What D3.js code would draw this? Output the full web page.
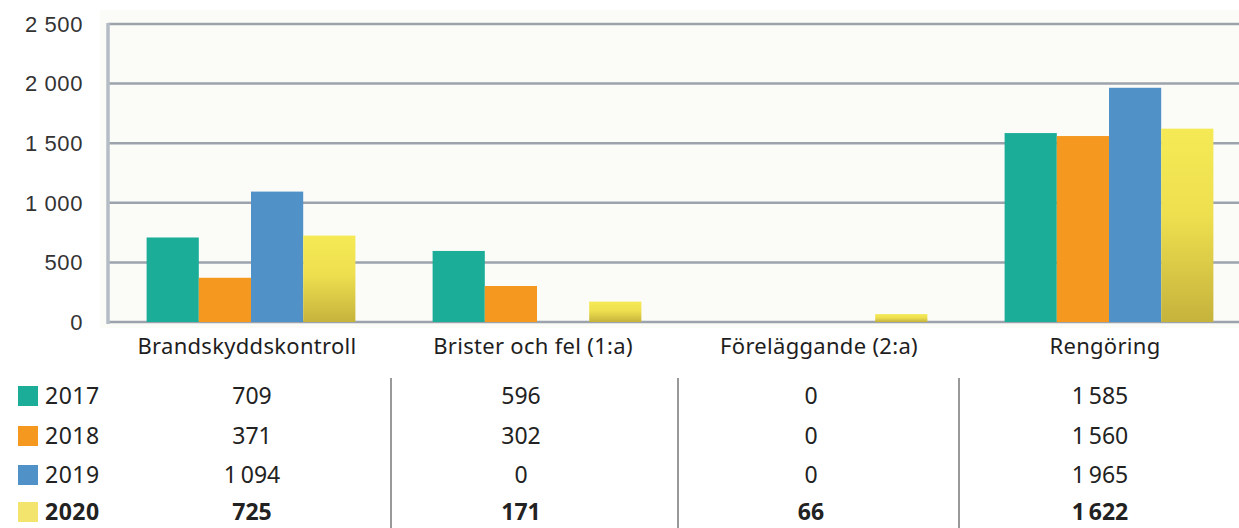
<!DOCTYPE html>
<html><head><meta charset="utf-8">
<script src="https://cdn.jsdelivr.net/npm/d3@7"></script>
<style>
html,body{margin:0;padding:0;background:#fff;}
svg{display:block;}
</style></head>
<body>
<svg id="chart" width="1239" height="528"></svg>
<script>
const categories = ["Brandskyddskontroll", "Brister och fel (1:a)", "Föreläggande (2:a)", "Rengöring"];
const years = ["2017", "2018", "2019", "2020"];
const values2017 = [709, 596, 0, 1585];
const values2018 = [371, 302, 0, 1560];
const values2019 = [1094, 0, 0, 1965];
const values2020 = [725, 171, 66, 1622];
const yTicks = [0, 500, 1000, 1500, 2000, 2500];
const colors = ["#1bad98", "#f5981f", "#5091c7", "url(#yellowGrad)"];
const legendColors = ["#1bad98", "#f5981f", "#5091c7", "#f3e46e"];

const series = [values2017, values2018, values2019, values2020];
const fmtWith = sep => v => {
  const s = String(v);
  return s.length > 3 ? s.slice(0, s.length - 3) + sep + s.slice(-3) : s;
};
const fmt = fmtWith("\u2009");
const fmtAxis = fmtWith(" ");

const svg = d3.select("#chart");
const defs = svg.append("defs");
const g1 = defs.append("linearGradient").attr("id", "yellowGrad").attr("x1", 0).attr("y1", 0).attr("x2", 0).attr("y2", 1);
g1.append("stop").attr("offset", "0%").attr("stop-color", "#f5ea55");
g1.append("stop").attr("offset", "45%").attr("stop-color", "#eedf4f");
g1.append("stop").attr("offset", "100%").attr("stop-color", "#c5b33c");

const pLeft = 108, pRight = 1252, pTop = 24, pBottom = 322;
const x0 = d3.scaleBand().domain(categories).range([pLeft, pRight]).padding(0);
const bw = x0.bandwidth();
const x1 = d3.scaleBand().domain(years).range([bw * 0.135, bw * 0.865]).padding(0);
const y = d3.scaleLinear().domain([0, 2500]).range([pBottom, pTop]);

// plot background
svg.append("rect").attr("x", 100).attr("y", 10).attr("width", 1139).attr("height", 318).attr("fill", "#fbfbf8");

// gridlines
svg.append("g").selectAll("line").data(yTicks).join("line")
  .attr("x1", pLeft).attr("x2", 1239)
  .attr("y1", d => y(d)).attr("y2", d => y(d))
  .attr("stroke", "#9ca3ad").attr("stroke-width", 2.5);

// y axis
const yAxis = d3.axisLeft(y).tickValues(yTicks).tickSize(0).tickPadding(0).tickFormat(fmtAxis);
const ya = svg.append("g").attr("transform", `translate(83,0)`).call(yAxis);
ya.select(".domain").remove();
ya.selectAll("text").attr("font-family", "Liberation Sans, Arial, sans-serif").attr("font-size", 22)
  .attr("letter-spacing", 0.6).attr("fill", "#333").attr("dy", "0.33em");

// axis line
svg.append("line").attr("x1", pLeft).attr("x2", pLeft).attr("y1", pTop - 1).attr("y2", pBottom + 2)
  .attr("stroke", "#b4bcc6").attr("stroke-width", 3.5);

// bars
const groups = svg.append("g").selectAll("g").data(categories).join("g")
  .attr("transform", d => `translate(${x0(d)},0)`);
groups.selectAll("rect").data((c, ci) => years.map((yr, si) => ({yr, si, v: series[si][ci]})))
  .join("rect")
  .attr("x", d => x1(d.yr)).attr("width", x1.bandwidth())
  .attr("y", d => y(d.v)).attr("height", d => y(0) - y(d.v))
  .attr("fill", d => colors[d.si]);

// category labels
const xAxis = d3.axisBottom(x0).tickSize(0).tickPadding(0);
const xa = svg.append("g").attr("transform", `translate(-4,${pBottom})`).call(xAxis);
xa.select(".domain").remove();
xa.selectAll("text").attr("font-family", "Noto Sans, sans-serif").attr("font-size", 22)
  .attr("letter-spacing", 0.3).attr("fill", "#1e1e1e").attr("dy", "1.45em");

// table
const rowY = [396, 436, 475, 512];
const colX = [252, 521, 811, 1100];
const table = svg.append("g");
years.forEach((yr, si) => {
  const bold = si === 3;
  table.append("rect").attr("x", 18).attr("y", rowY[si] - 10).attr("width", 20).attr("height", 20).attr("fill", legendColors[si]);
  table.append("text").attr("x", 45).attr("y", rowY[si]).attr("dy", "0.36em")
    .attr("font-family", "Noto Sans, sans-serif").attr("font-size", 23).attr("font-weight", bold ? 700 : 400)
    .attr("letter-spacing", 0.5).attr("fill", "#222").text(yr);
  series[si].forEach((v, ci) => {
    table.append("text").attr("x", colX[ci]).attr("y", rowY[si]).attr("dy", "0.36em")
      .attr("text-anchor", "middle")
      .attr("font-family", "Noto Sans, sans-serif").attr("font-size", 23).attr("font-weight", bold ? 700 : 400)
      .attr("fill", "#222").text(fmt(v));
  });
});
const sepX = [391, 678, 959];
table.selectAll("line.sep").data(sepX).join("line").attr("class", "sep")
  .attr("x1", d => d).attr("x2", d => d).attr("y1", 378).attr("y2", 528)
  .attr("stroke", "#555").attr("stroke-width", 1.2);
</script>
</body></html>
